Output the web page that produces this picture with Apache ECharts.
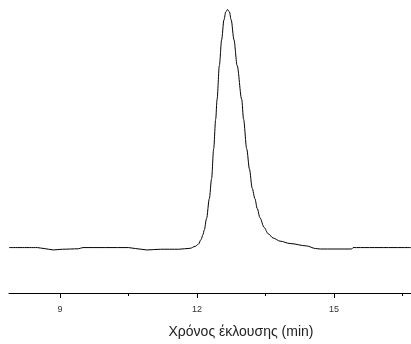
<!DOCTYPE html>
<html>
<head>
<meta charset="utf-8">
<script src="https://cdn.jsdelivr.net/npm/echarts@6/dist/echarts.min.js"></script>
<style>html,body{margin:0;padding:0;background:#fff}#c{width:411px;height:344px}</style>
</head>
<body>
<div id="c"></div>
<script>
// elution time (min)
var times = [7.88, 8.5, 8.65, 8.85, 9.05, 9.4, 9.5, 10.5, 10.65, 10.9, 11.2, 11.6, 11.85, 11.96, 12.03, 12.09, 12.13, 12.16, 12.21, 12.27, 12.32, 12.365, 12.41, 12.44, 12.49, 12.54, 12.59, 12.63, 12.67, 12.71, 12.75, 12.81, 12.88, 12.98, 13.02, 13.09, 13.15, 13.21, 13.27, 13.32, 13.38, 13.47, 13.56, 13.67, 13.82, 14.04, 14.4, 14.6, 14.7, 15.39, 15.42, 16.69];
// detector signal (relative)
var signal = [0.1, 0.1, -0.3, -0.9, -0.6, -0.4, 0.1, 0.1, -0.3, -0.9, -0.6, -0.6, -0.2, 0.6, 1.5, 3.5, 5.5, 7.5, 12.3, 20.6, 29, 41.5, 54, 62.3, 76.5, 87.3, 95.6, 99, 100, 99, 95.6, 87.3, 76.5, 62.3, 54, 41.5, 33, 25, 20.6, 16.5, 12.6, 8.6, 5.9, 4.1, 2.8, 1.8, 0.8, -0.3, -0.5, -0.5, 0.1, 0.1];
var majorTicks = [9, 12, 15];
var minorTicks = [10.5, 13.5, 16.5];
var xName = 'Χρόνος έκλουσης (min)';

var data = times.map(function (t, i) { return [t, signal[i]]; });
var chart = echarts.init(document.getElementById('c'), null, {renderer: 'canvas'});
chart.setOption({
  animation: false,
  grid: {left: 9, right: 0, top: 5, bottom: 49},
  xAxis: [{
    type: 'value', min: 7.88, max: 16.69,
    splitLine: {show: false},
    axisLine: {show: true, onZero: false, lineStyle: {color: '#000', width: 1}},
    axisTick: {show: true, length: 5, customValues: majorTicks, lineStyle: {color: '#000'}},
    axisLabel: {customValues: majorTicks, margin: 12, fontSize: 9, color: '#333', fontFamily: 'Liberation Sans'},
    name: xName, nameLocation: 'middle', nameGap: 32,
    nameTextStyle: {fontSize: 14, color: '#222', fontFamily: 'Liberation Sans', padding: [0, 0, 0, 62]}
  }, {
    type: 'value', min: 7.88, max: 16.69, position: 'bottom',
    splitLine: {show: false},
    axisLine: {show: false, onZero: false},
    axisTick: {show: true, length: 3, customValues: minorTicks, lineStyle: {color: '#000'}},
    axisLabel: {show: false}
  }],
  yAxis: {type: 'value', min: -18.96, max: 101.9, show: false},
  series: [{
    type: 'line', data: data, smooth: 0.3, smoothMonotone: 'x', showSymbol: false, symbol: 'none',
    lineStyle: {color: '#000', width: 1}
  }]
});
</script>
</body>
</html>
